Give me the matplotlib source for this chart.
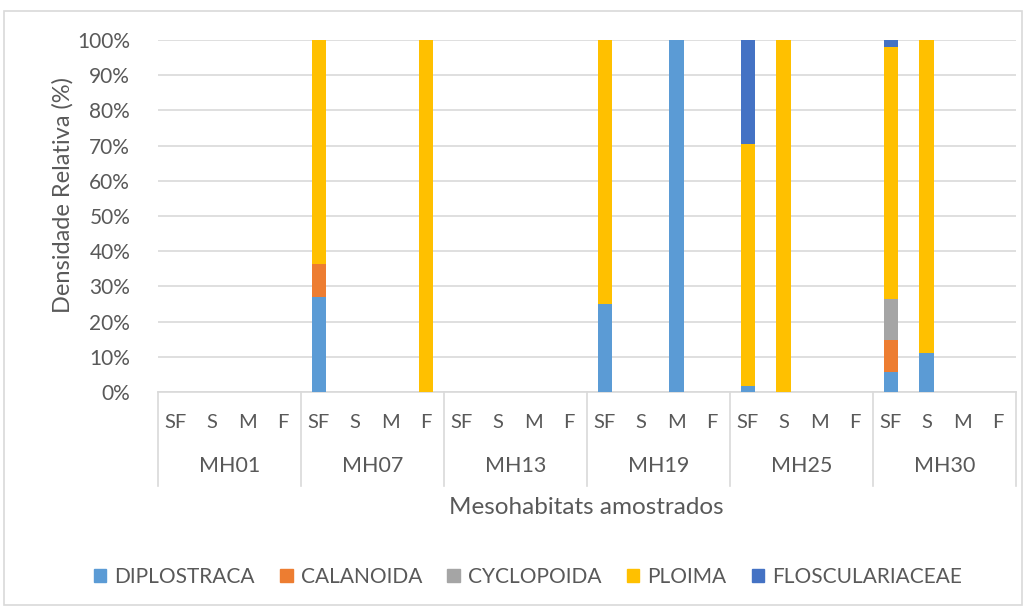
import matplotlib
matplotlib.use("Agg")
import matplotlib.pyplot as plt
import matplotlib.patches as mpatches
import numpy as np

plt.rcParams["font.family"] = ["Lato", "DejaVu Sans"]

# ── Data (relative density, %) ───────────────────────────────────────────────
groups = ["MH01", "MH07", "MH13", "MH19", "MH25", "MH30"]
subs = ["SF", "S", "M", "F"]
series = ["DIPLOSTRACA", "CALANOIDA", "CYCLOPOIDA", "PLOIMA", "FLOSCULARIACEAE"]
colors = ["#5B9BD5", "#ED7D31", "#A5A5A5", "#FFC000", "#4472C4"]

#              MH01        MH07            MH13        MH19          MH25           MH30
diplostraca = [0, 0, 0, 0, 27.1, 0, 0, 0, 0, 0, 0, 0, 25, 0, 100, 0, 1.7, 0, 0, 0, 5.7, 11.2, 0, 0]
calanoida   = [0, 0, 0, 0, 9.2, 0, 0, 0, 0, 0, 0, 0, 0, 0, 0, 0, 0, 0, 0, 0, 9.1, 0, 0, 0]
cyclopoida  = [0, 0, 0, 0, 0, 0, 0, 0, 0, 0, 0, 0, 0, 0, 0, 0, 0, 0, 0, 0, 11.6, 0, 0, 0]
ploima      = [0, 0, 0, 0, 63.7, 0, 0, 100, 0, 0, 0, 0, 75, 0, 0, 0, 68.7, 100, 0, 0, 71.7, 88.8, 0, 0]
flosc       = [0, 0, 0, 0, 0, 0, 0, 0, 0, 0, 0, 0, 0, 0, 0, 0, 29.6, 0, 0, 0, 1.9, 0, 0, 0]
values = [diplostraca, calanoida, cyclopoida, ploima, flosc]

TXT = "#595959"
GRID = "#D9D9D9"

fig = plt.figure(figsize=(10.27, 6.07), dpi=100)
ax = fig.add_axes([158 / 1027, 1 - 392 / 607, (1016 - 158) / 1027, (392 - 40) / 607])

n = len(groups) * len(subs)
x = np.arange(n)
bottom = np.zeros(n)
for name, vals, c in zip(series, values, colors):
    vals = np.array(vals, dtype=float)
    ax.bar(x, vals, bottom=bottom, width=0.4, color=c, label=name, zorder=3)
    bottom += vals

ax.set_xlim(-0.5, n - 0.5)
ax.set_ylim(0, 100)
ax.set_yticks(np.arange(0, 101, 10))
ax.set_yticklabels([f"{v}%" for v in range(0, 101, 10)])
ax.yaxis.grid(True, color=GRID, linewidth=1.2, zorder=0)
ax.tick_params(axis="y", length=0, labelsize=15, colors=TXT, pad=20)
ax.set_xticks([])
for s in ["top", "right", "left"]:
    ax.spines[s].set_visible(False)
ax.spines["bottom"].set_color(GRID)
ax.spines["bottom"].set_linewidth(1.2)

fig.text(63 / 1027, 1 - 195 / 607, "Densidade Relativa (%)", rotation=90,
         ha="center", va="center", fontsize=17, color=TXT)

# ── Two-level category axis ──────────────────────────────────────────────────
trans = ax.get_xaxis_transform()
y_px = lambda py: (392 - py) / (392 - 40)
for gi, g in enumerate(groups):
    for si, s in enumerate(subs):
        ax.text(gi * 4 + si, y_px(423), s, transform=trans, ha="center",
                va="center", fontsize=14.5, color=TXT, clip_on=False)
    ax.text(gi * 4 + 1.5, y_px(466), g, transform=trans, ha="center",
            va="center", fontsize=15.5, color=TXT, clip_on=False)
for b in np.arange(len(groups) + 1) * 4 - 0.5:
    ax.plot([b, b], [0, y_px(486)], transform=trans, color=GRID,
            linewidth=1.2, clip_on=False)

fig.text(586 / 1027, 1 - 507 / 607, "Mesohabitats amostrados", ha="center",
         va="center", fontsize=17.5, color=TXT)

# ── Legend ───────────────────────────────────────────────────────────────────
handles = [mpatches.Patch(color=c, label=s) for s, c in zip(series, colors)]
leg = fig.legend(handles=handles, loc="center", ncol=5,
                 bbox_to_anchor=(528 / 1027, 1 - 577 / 607), frameon=False,
                 fontsize=15, handlelength=0.6, handleheight=0.6,
                 handletextpad=0.4, columnspacing=1.2)
for t in leg.get_texts():
    t.set_color(TXT)

# chart border
fig.patches.append(mpatches.Rectangle((4 / 1027, 2 / 607), 1018 / 1027, 594 / 607,
                                      transform=fig.transFigure, fill=False,
                                      edgecolor=GRID, linewidth=1.2))

fig.savefig("out.png", dpi=100)
